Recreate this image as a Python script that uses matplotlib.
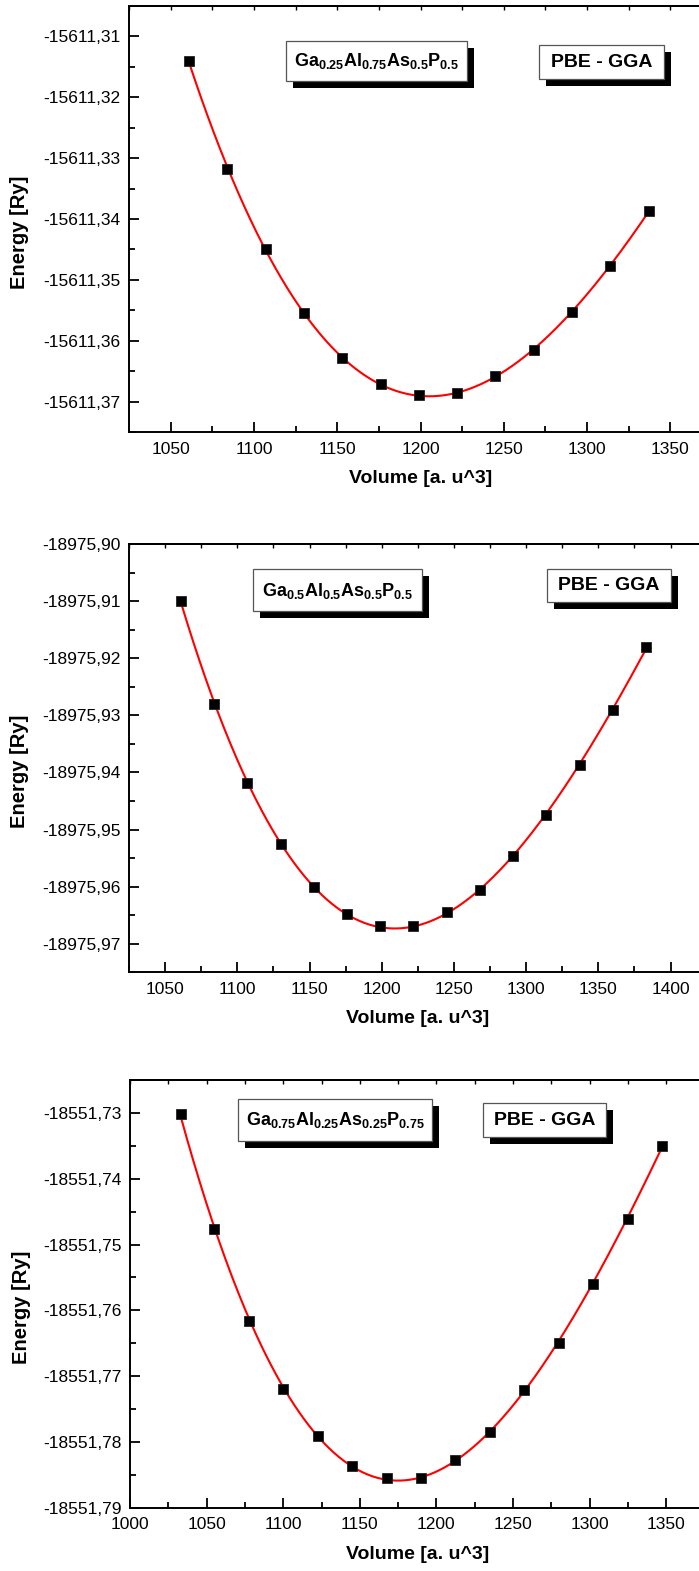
import numpy as np
import matplotlib
matplotlib.use("Agg")
import matplotlib.pyplot as plt
from matplotlib import ticker
from matplotlib.patches import Rectangle

plt.rcParams['font.family'] = ['Liberation Sans', 'DejaVu Sans']
plt.rcParams['mathtext.fontset'] = 'custom'
plt.rcParams['mathtext.rm'] = 'Liberation Sans'
plt.rcParams['mathtext.bf'] = 'Liberation Sans:bold'

# --- data ---
vol_1 = [1061, 1084, 1107, 1130, 1153, 1176, 1199, 1222, 1245, 1268, 1291, 1314, 1337]
energy_1 = [-15611.31405, -15611.33175, -15611.34500, -15611.35547, -15611.36282,
            -15611.36717, -15611.36886, -15611.36859, -15611.36573, -15611.36150,
            -15611.35530, -15611.34766, -15611.33867]

vol_2 = [1061, 1084, 1107, 1130, 1153, 1176, 1199, 1222, 1245, 1268, 1291, 1314, 1337, 1360, 1383]
energy_2 = [-18975.90995, -18975.92802, -18975.94181, -18975.95246, -18975.96012,
            -18975.96486, -18975.96696, -18975.96684, -18975.96439, -18975.96058,
            -18975.95456, -18975.94737, -18975.93865, -18975.92912, -18975.91812]

vol_3 = [1033, 1055, 1078, 1100, 1123, 1145, 1168, 1190, 1212, 1235, 1257, 1280, 1302, 1325, 1347]
energy_3 = [-18551.73010, -18551.74764, -18551.76166, -18551.77192, -18551.77909,
            -18551.78366, -18551.78553, -18551.78548, -18551.78274, -18551.77843,
            -18551.77218, -18551.76491, -18551.75602, -18551.74611, -18551.73503]

labels = [r'$\mathbf{Ga_{0.25}Al_{0.75}As_{0.5}P_{0.5}}$',
          r'$\mathbf{Ga_{0.5}Al_{0.5}As_{0.5}P_{0.5}}$',
          r'$\mathbf{Ga_{0.75}Al_{0.25}As_{0.25}P_{0.75}}$']
method_label = 'PBE - GGA'

xticks_1 = [1050, 1100, 1150, 1200, 1250, 1300, 1350]
xticks_2 = [1050, 1100, 1150, 1200, 1250, 1300, 1350, 1400]
xticks_3 = [1000, 1050, 1100, 1150, 1200, 1250, 1300, 1350]
yticks_1 = [-15611.37, -15611.36, -15611.35, -15611.34, -15611.33, -15611.32, -15611.31]
yticks_2 = [-18975.97, -18975.96, -18975.95, -18975.94, -18975.93, -18975.92, -18975.91, -18975.90]
yticks_3 = [-18551.79, -18551.78, -18551.77, -18551.76, -18551.75, -18551.74, -18551.73]

W, H = 699, 1571
fig = plt.figure(figsize=(W / 100, H / 100), dpi=100)

# layout in pixels: axes (left, right, top, bottom), label boxes (left, top, right, bottom)
panels = [
    dict(v=vol_1, e=energy_1, xt=xticks_1, yt=yticks_1, rect=(129, 712, 6, 432),
         xlim=(1025, 1375), ylim=(-15611.375, -15611.305),
         box1=(285.7, 40.7, 467.3, 81.0), box2=(539.3, 45.3, 664.0, 79.0), ylab_x=29),
    dict(v=vol_2, e=energy_2, xt=xticks_2, yt=yticks_2, rect=(129, 706.6, 544, 972.3),
         xlim=(1025, 1425), ylim=(-18975.975, -18975.90),
         box1=(253.3, 569.3, 421.7, 610.7), box2=(546.7, 568.7, 670.7, 602.3), ylab_x=29),
    dict(v=vol_3, e=energy_3, xt=xticks_3, yt=yticks_3, rect=(130, 704.5, 1080, 1507.7),
         xlim=(1000, 1375), ylim=(-18551.79, -18551.725),
         box1=(237.7, 1099.3, 432.3, 1140.7), box2=(483.3, 1102.7, 606.3, 1137.0), ylab_x=31),
]

comma_fmt = ticker.FuncFormatter(lambda v, p: f"{v:.2f}".replace('.', ','))


def add_box(x0, y0, x1, y1, txt, size):
    # drop shadow, then white box, then centred text (pixel coords from top-left)
    sh = 7
    fig.patches.append(Rectangle(((x0 + sh) / W, 1 - (y1 + sh) / H), (x1 - x0) / W, (y1 - y0) / H,
                                 transform=fig.transFigure, fc='black', ec='none', zorder=4))
    fig.patches.append(Rectangle((x0 / W, 1 - y1 / H), (x1 - x0) / W, (y1 - y0) / H,
                                 transform=fig.transFigure, fc='white', ec='#555555', lw=0.9, zorder=5))
    fig.text((x0 + x1) / 2 / W, 1 - ((y0 + y1) / 2 + 0.5) / H, txt, ha='center', va='center',
             fontsize=size, fontweight='bold', color='black', zorder=6)


for i, p in enumerate(panels):
    l, r, t, b = p['rect']
    ax = fig.add_axes([l / W, 1 - b / H, (r - l) / W, (b - t) / H])
    wpx, hpx = r - l, b - t

    v = np.array(p['v'], dtype=float)
    e = np.array(p['e'])
    fit = np.polynomial.Polynomial.fit(v, e, 3)
    vv = np.linspace(v.min(), v.max(), 300)
    ax.plot(vv, fit(vv), color='red', lw=1.5, zorder=2)
    ax.plot(v, e, 's', color='black', ms=6.8, mec='#222222', mew=0.6, zorder=3)

    ax.set_xlim(p['xlim'])
    ax.set_ylim(p['ylim'])
    ax.set_xticks(p['xt'])
    ax.set_yticks(p['yt'])
    ax.xaxis.set_minor_locator(ticker.AutoMinorLocator(2))
    ax.yaxis.set_minor_locator(ticker.AutoMinorLocator(2))
    ax.yaxis.set_major_formatter(comma_fmt)
    ax.tick_params(which='both', direction='in', width=1.3, labelsize=12.5,
                   top=False, right=False)
    ax.tick_params(which='major', length=7)
    ax.tick_params(which='minor', length=4)
    ax.tick_params(axis='x', pad=7)
    ax.tick_params(axis='y', pad=6)
    for s in ax.spines.values():
        s.set_linewidth(1.4)

    top = ax.secondary_xaxis('top')
    top.set_xticks(np.arange(p['xlim'][0], p['xlim'][1] + 1, 25))
    top.tick_params(direction='in', length=3, width=1.0, labeltop=False)
    top.spines['top'].set_linewidth(1.4)

    ax.set_xlabel('Volume [a. u^3]', fontsize=14, fontweight='bold')
    ax.set_ylabel('Energy [Ry]', fontsize=14.5, fontweight='bold')
    ax.xaxis.set_label_coords(0.5, -38 / hpx)
    ax.yaxis.set_label_coords((p['ylab_x'] - l) / wpx, 0.5 - 13 / hpx)

    add_box(*p['box1'], labels[i], 13)
    add_box(*p['box2'], method_label, 14)

fig.savefig('out.png', dpi=100)
